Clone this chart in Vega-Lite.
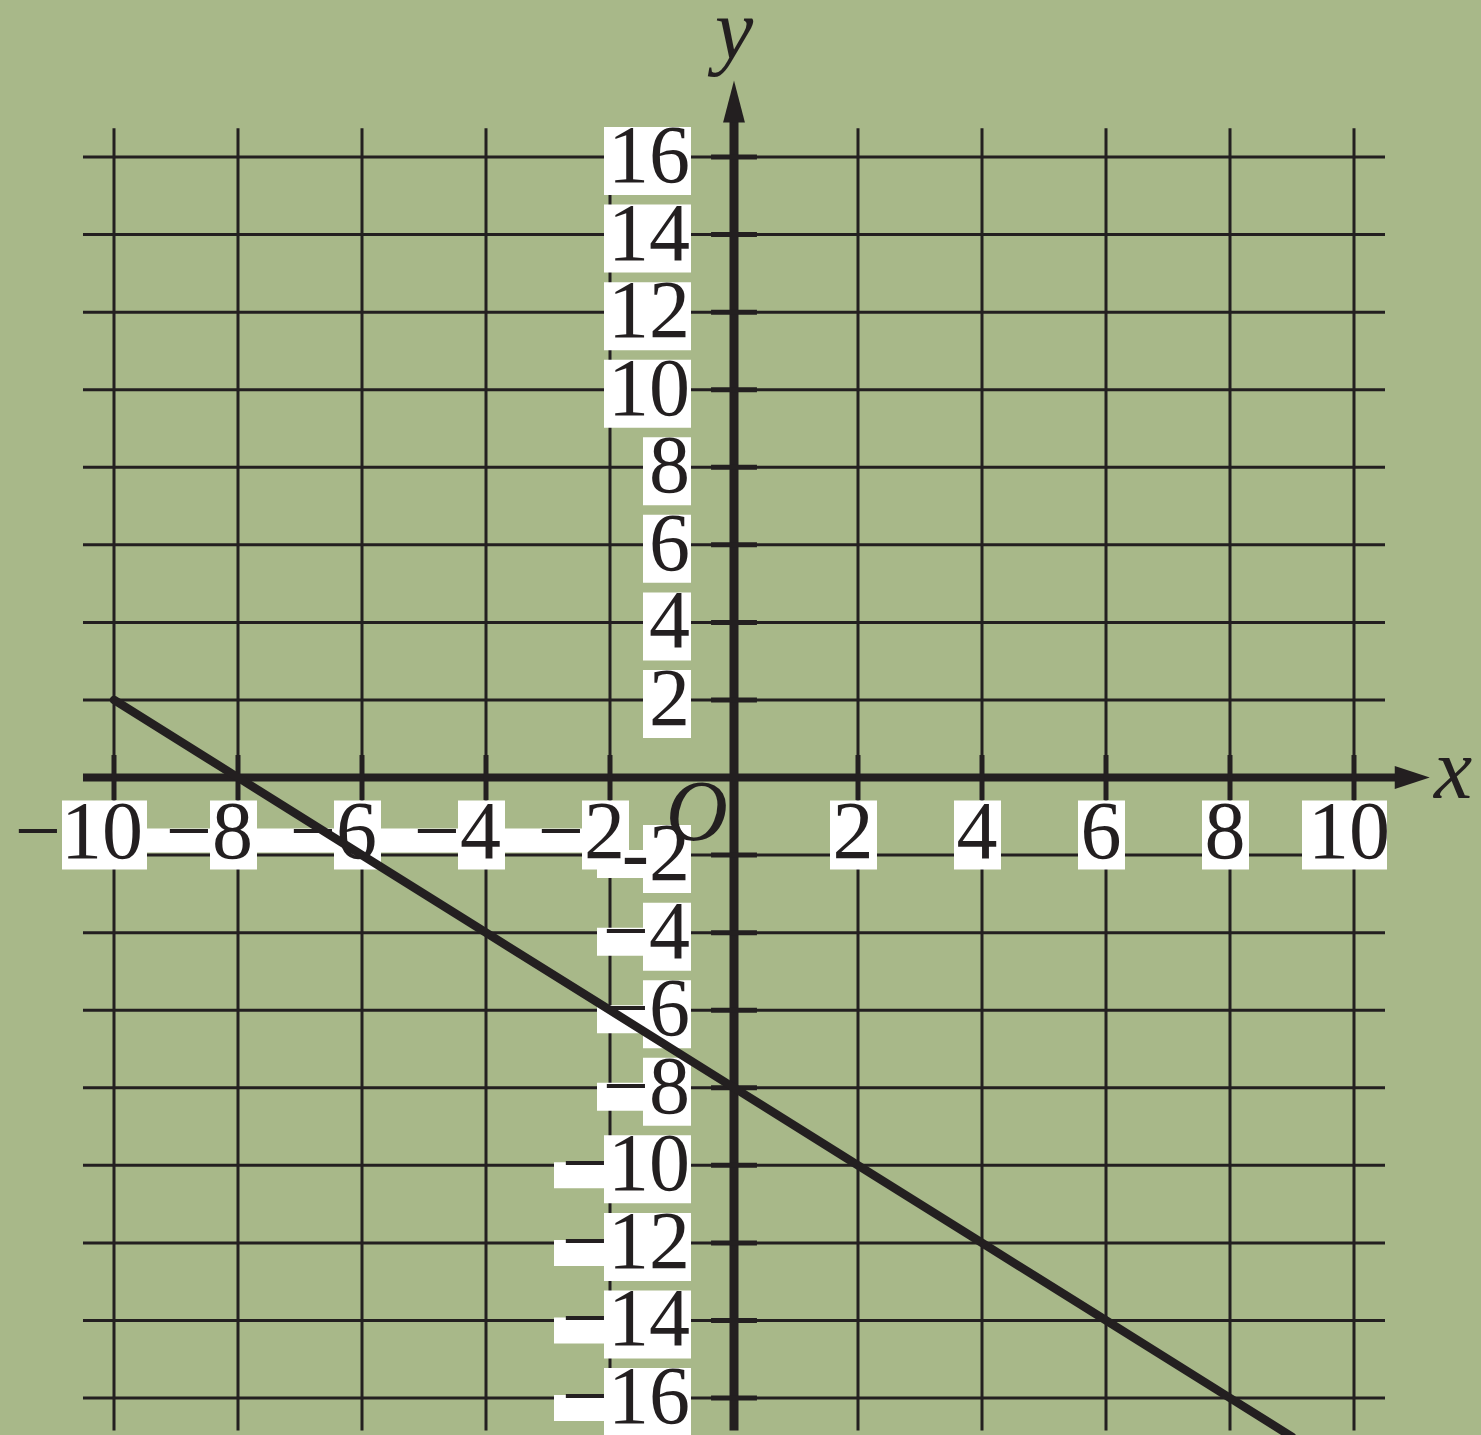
{
  "$schema": "https://vega.github.io/schema/vega-lite/v6.json",
  "width": 1481,
  "height": 1435,
  "autosize": "none",
  "padding": 0,
  "background": "#a8b889",
  "config": {"view": {"stroke": null}},
  "datasets": {
    "one": [{}],
    "vgrid": [{"v": -10}, {"v": -8}, {"v": -6}, {"v": -4}, {"v": -2}, {"v": 2}, {"v": 4}, {"v": 6}, {"v": 8}, {"v": 10}],
    "hgrid": [{"v": -16}, {"v": -14}, {"v": -12}, {"v": -10}, {"v": -8}, {"v": -6}, {"v": -4}, {"v": -2}, {"v": 2}, {"v": 4}, {"v": 6}, {"v": 8}, {"v": 10}, {"v": 12}, {"v": 14}, {"v": 16}],
    "xlabels": [
      {"v": -10, "label": "−10"}, {"v": -8, "label": "−8"}, {"v": -6, "label": "−6"}, {"v": -4, "label": "−4"}, {"v": -2, "label": "−2"},
      {"v": 2, "label": "2"}, {"v": 4, "label": "4"}, {"v": 6, "label": "6"}, {"v": 8, "label": "8"}, {"v": 10, "label": "10"}
    ],
    "ylabels": [
      {"v": 16, "label": "16"}, {"v": 14, "label": "14"}, {"v": 12, "label": "12"}, {"v": 10, "label": "10"},
      {"v": 8, "label": "8"}, {"v": 6, "label": "6"}, {"v": 4, "label": "4"}, {"v": 2, "label": "2"},
      {"v": -2, "label": "-2"}, {"v": -4, "label": "−4"}, {"v": -6, "label": "−6"}, {"v": -8, "label": "−8"},
      {"v": -10, "label": "−10"}, {"v": -12, "label": "−12"}, {"v": -14, "label": "−14"}, {"v": -16, "label": "−16"}
    ],
    "line": [
      {"x": -10, "y": 2}, {"x": -8, "y": 0}, {"x": -6, "y": -2}, {"x": -4, "y": -4}, {"x": -2, "y": -6},
      {"x": 0, "y": -8}, {"x": 2, "y": -10}, {"x": 4, "y": -12}, {"x": 6, "y": -14}, {"x": 8, "y": -16}, {"x": 9, "y": -17}
    ],
    "letters": [
      {"x": 11.6, "y": -0.53, "t": "x"},
      {"x": 0, "y": 18.55, "t": "y"},
      {"x": -0.6, "y": -1.61, "t": "O"}
    ]
  },
  "layer": [
    {
      "data": {"name": "vgrid"},
      "mark": {"type": "rule", "color": "#231f20", "strokeWidth": 3},
      "encoding": {
        "x": {"field": "v", "type": "quantitative", "scale": {"domain": [-11.8387, 12.0484], "nice": false, "zero": false}, "axis": null},
        "y": {"datum": -16.84, "type": "quantitative", "scale": {"domain": [-16.954, 20.049], "nice": false, "zero": false}, "axis": null},
        "y2": {"datum": 16.74}
      }
    },
    {
      "data": {"name": "hgrid"},
      "mark": {"type": "rule", "color": "#231f20", "strokeWidth": 3},
      "encoding": {
        "y": {"field": "v", "type": "quantitative", "scale": {"domain": [-16.954, 20.049], "nice": false, "zero": false}, "axis": null},
        "x": {"datum": -10.5, "type": "quantitative", "scale": {"domain": [-11.8387, 12.0484], "nice": false, "zero": false}, "axis": null},
        "x2": {"datum": 10.5}
      }
    },
    {
      "data": {"name": "xlabels"},
      "transform": [{"filter": "abs(datum.v) < 10"}],
      "mark": {"type": "rect", "color": "white", "xOffset": -28, "x2Offset": 19, "yOffset": 23, "y2Offset": 92},
      "encoding": {
        "x": {"field": "v", "type": "quantitative", "scale": {"domain": [-11.8387, 12.0484], "nice": false, "zero": false}, "axis": null},
        "x2": {"field": "v"},
        "y": {"datum": 0, "type": "quantitative", "scale": {"domain": [-16.954, 20.049], "nice": false, "zero": false}, "axis": null},
        "y2": {"datum": 0}
      }
    },
    {
      "data": {"name": "xlabels"},
      "transform": [{"filter": "abs(datum.v) >= 10"}],
      "mark": {"type": "rect", "color": "white", "xOffset": -52, "x2Offset": 33, "yOffset": 23, "y2Offset": 92},
      "encoding": {
        "x": {"field": "v", "type": "quantitative", "scale": {"domain": [-11.8387, 12.0484], "nice": false, "zero": false}, "axis": null},
        "x2": {"field": "v"},
        "y": {"datum": 0, "type": "quantitative", "scale": {"domain": [-16.954, 20.049], "nice": false, "zero": false}, "axis": null},
        "y2": {"datum": 0}
      }
    },
    {
      "data": {"name": "one"},
      "mark": {"type": "rect", "color": "white", "xOffset": 31, "x2Offset": -28, "yOffset": 51, "y2Offset": 75},
      "encoding": {
        "x": {"datum": -10, "type": "quantitative", "scale": {"domain": [-11.8387, 12.0484], "nice": false, "zero": false}, "axis": null},
        "x2": {"datum": -2},
        "y": {"datum": 0, "type": "quantitative", "scale": {"domain": [-16.954, 20.049], "nice": false, "zero": false}, "axis": null},
        "y2": {"datum": 0}
      }
    },
    {
      "data": {"name": "ylabels"},
      "transform": [{"filter": "abs(datum.v) < 10"}],
      "mark": {"type": "rect", "color": "white", "xOffset": -91, "x2Offset": -43, "yOffset": -30, "y2Offset": 38},
      "encoding": {
        "y": {"field": "v", "type": "quantitative", "scale": {"domain": [-16.954, 20.049], "nice": false, "zero": false}, "axis": null},
        "y2": {"field": "v"},
        "x": {"datum": 0, "type": "quantitative", "scale": {"domain": [-11.8387, 12.0484], "nice": false, "zero": false}, "axis": null},
        "x2": {"datum": 0}
      }
    },
    {
      "data": {"name": "ylabels"},
      "transform": [{"filter": "abs(datum.v) >= 10"}],
      "mark": {"type": "rect", "color": "white", "xOffset": -130, "x2Offset": -43, "yOffset": -30, "y2Offset": 38},
      "encoding": {
        "y": {"field": "v", "type": "quantitative", "scale": {"domain": [-16.954, 20.049], "nice": false, "zero": false}, "axis": null},
        "y2": {"field": "v"},
        "x": {"datum": 0, "type": "quantitative", "scale": {"domain": [-11.8387, 12.0484], "nice": false, "zero": false}, "axis": null},
        "x2": {"datum": 0}
      }
    },
    {
      "data": {"name": "ylabels"},
      "transform": [{"filter": "datum.v < 0 && datum.v > -10"}],
      "mark": {"type": "rect", "color": "white", "xOffset": -137, "x2Offset": -91, "yOffset": -5, "y2Offset": 23},
      "encoding": {
        "y": {"field": "v", "type": "quantitative", "scale": {"domain": [-16.954, 20.049], "nice": false, "zero": false}, "axis": null},
        "y2": {"field": "v"},
        "x": {"datum": 0, "type": "quantitative", "scale": {"domain": [-11.8387, 12.0484], "nice": false, "zero": false}, "axis": null},
        "x2": {"datum": 0}
      }
    },
    {
      "data": {"name": "ylabels"},
      "transform": [{"filter": "datum.v <= -10"}],
      "mark": {"type": "rect", "color": "white", "xOffset": -180, "x2Offset": -130, "yOffset": -3, "y2Offset": 23},
      "encoding": {
        "y": {"field": "v", "type": "quantitative", "scale": {"domain": [-16.954, 20.049], "nice": false, "zero": false}, "axis": null},
        "y2": {"field": "v"},
        "x": {"datum": 0, "type": "quantitative", "scale": {"domain": [-11.8387, 12.0484], "nice": false, "zero": false}, "axis": null},
        "x2": {"datum": 0}
      }
    },
    {
      "data": {"name": "xlabels"},
      "transform": [{"filter": "datum.v < 0 && datum.v > -10"}],
      "mark": {"type": "text", "font": "Liberation Serif", "fontSize": 82, "color": "#231f20", "align": "right", "baseline": "middle", "dx": 15, "dy": 55},
      "encoding": {
        "x": {"field": "v", "type": "quantitative", "scale": {"domain": [-11.8387, 12.0484], "nice": false, "zero": false}, "axis": null},
        "y": {"datum": 0, "type": "quantitative", "scale": {"domain": [-16.954, 20.049], "nice": false, "zero": false}, "axis": null},
        "text": {"field": "label"}
      }
    },
    {
      "data": {"name": "xlabels"},
      "transform": [{"filter": "datum.v <= -10"}],
      "mark": {"type": "text", "font": "Liberation Serif", "fontSize": 82, "color": "#231f20", "align": "right", "baseline": "middle", "dx": 29, "dy": 55},
      "encoding": {
        "x": {"field": "v", "type": "quantitative", "scale": {"domain": [-11.8387, 12.0484], "nice": false, "zero": false}, "axis": null},
        "y": {"datum": 0, "type": "quantitative", "scale": {"domain": [-16.954, 20.049], "nice": false, "zero": false}, "axis": null},
        "text": {"field": "label"}
      }
    },
    {
      "data": {"name": "xlabels"},
      "transform": [{"filter": "datum.v > 0"}],
      "mark": {"type": "text", "font": "Liberation Serif", "fontSize": 82, "color": "#231f20", "align": "center", "baseline": "middle", "dx": -5, "dy": 55},
      "encoding": {
        "x": {"field": "v", "type": "quantitative", "scale": {"domain": [-11.8387, 12.0484], "nice": false, "zero": false}, "axis": null},
        "y": {"datum": 0, "type": "quantitative", "scale": {"domain": [-16.954, 20.049], "nice": false, "zero": false}, "axis": null},
        "text": {"field": "label"}
      }
    },
    {
      "data": {"name": "ylabels"},
      "mark": {"type": "text", "font": "Liberation Serif", "fontSize": 82, "color": "#231f20", "align": "right", "baseline": "middle", "dx": -44},
      "encoding": {
        "y": {"field": "v", "type": "quantitative", "scale": {"domain": [-16.954, 20.049], "nice": false, "zero": false}, "axis": null},
        "x": {"datum": 0, "type": "quantitative", "scale": {"domain": [-11.8387, 12.0484], "nice": false, "zero": false}, "axis": null},
        "text": {"field": "label"}
      }
    },
    {
      "data": {"name": "one"},
      "mark": {"type": "rule", "color": "#231f20", "strokeWidth": 8},
      "encoding": {
        "x": {"datum": -10.5, "type": "quantitative", "scale": {"domain": [-11.8387, 12.0484], "nice": false, "zero": false}, "axis": null},
        "x2": {"datum": 10.7},
        "y": {"datum": 0, "type": "quantitative", "scale": {"domain": [-16.954, 20.049], "nice": false, "zero": false}, "axis": null}
      }
    },
    {
      "data": {"name": "one"},
      "mark": {"type": "rule", "color": "#231f20", "strokeWidth": 9},
      "encoding": {
        "x": {"datum": 0, "type": "quantitative", "scale": {"domain": [-11.8387, 12.0484], "nice": false, "zero": false}, "axis": null},
        "y": {"datum": -16.84, "type": "quantitative", "scale": {"domain": [-16.954, 20.049], "nice": false, "zero": false}, "axis": null},
        "y2": {"datum": 17.2}
      }
    },
    {
      "data": {"name": "hgrid"},
      "mark": {"type": "rule", "color": "#231f20", "strokeWidth": 5},
      "encoding": {
        "y": {"field": "v", "type": "quantitative", "scale": {"domain": [-16.954, 20.049], "nice": false, "zero": false}, "axis": null},
        "x": {"datum": -0.37, "type": "quantitative", "scale": {"domain": [-11.8387, 12.0484], "nice": false, "zero": false}, "axis": null},
        "x2": {"datum": 0.37}
      }
    },
    {
      "data": {"name": "vgrid"},
      "mark": {"type": "rule", "color": "#231f20", "strokeWidth": 5},
      "encoding": {
        "x": {"field": "v", "type": "quantitative", "scale": {"domain": [-11.8387, 12.0484], "nice": false, "zero": false}, "axis": null},
        "y": {"datum": -0.58, "type": "quantitative", "scale": {"domain": [-16.954, 20.049], "nice": false, "zero": false}, "axis": null},
        "y2": {"datum": 0.58}
      }
    },
    {
      "data": {"name": "one"},
      "mark": {"type": "point", "filled": true, "color": "#231f20", "opacity": 1, "strokeWidth": 0, "shape": "M-1,-0.657L1,0L-1,0.657Z", "size": 1225},
      "encoding": {
        "x": {"datum": 10.94, "type": "quantitative", "scale": {"domain": [-11.8387, 12.0484], "nice": false, "zero": false}, "axis": null},
        "y": {"datum": 0, "type": "quantitative", "scale": {"domain": [-16.954, 20.049], "nice": false, "zero": false}, "axis": null}
      }
    },
    {
      "data": {"name": "one"},
      "mark": {"type": "point", "filled": true, "color": "#231f20", "opacity": 1, "strokeWidth": 0, "shape": "M-0.52,1L0,-1L0.52,1Z", "size": 1764},
      "encoding": {
        "x": {"datum": 0, "type": "quantitative", "scale": {"domain": [-11.8387, 12.0484], "nice": false, "zero": false}, "axis": null},
        "y": {"datum": 17.43, "type": "quantitative", "scale": {"domain": [-16.954, 20.049], "nice": false, "zero": false}, "axis": null}
      }
    },
    {
      "data": {"name": "letters"},
      "mark": {"type": "text", "font": "Liberation Serif", "fontSize": 86, "fontStyle": "italic", "color": "#231f20", "align": "center", "baseline": "alphabetic"},
      "encoding": {
        "x": {"field": "x", "type": "quantitative", "scale": {"domain": [-11.8387, 12.0484], "nice": false, "zero": false}, "axis": null},
        "y": {"field": "y", "type": "quantitative", "scale": {"domain": [-16.954, 20.049], "nice": false, "zero": false}, "axis": null},
        "text": {"field": "t"}
      }
    },
    {
      "data": {"name": "line"},
      "mark": {"type": "line", "color": "#231f20", "strokeWidth": 8.5, "strokeCap": "round", "clip": true},
      "encoding": {
        "x": {"field": "x", "type": "quantitative", "scale": {"domain": [-11.8387, 12.0484], "nice": false, "zero": false}, "axis": null},
        "y": {"field": "y", "type": "quantitative", "scale": {"domain": [-16.954, 20.049], "nice": false, "zero": false}, "axis": null}
      }
    }
  ]
}
